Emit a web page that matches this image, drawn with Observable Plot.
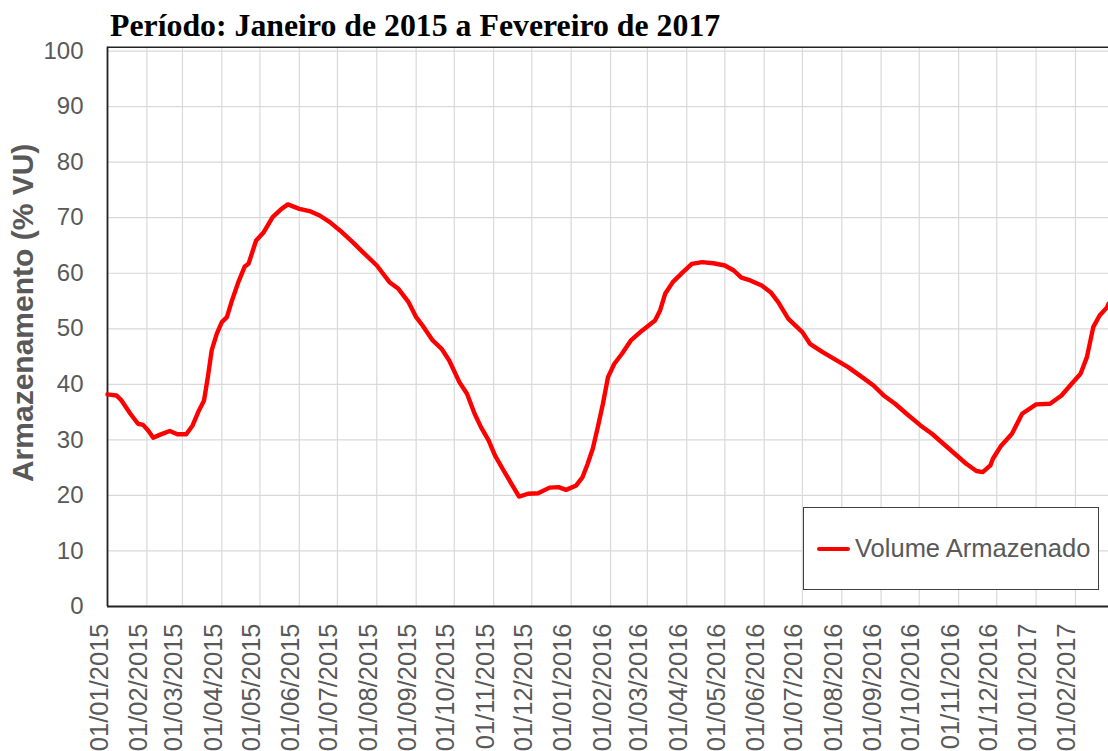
<!DOCTYPE html>
<html>
<head>
<meta charset="utf-8">
<script src="https://cdn.jsdelivr.net/npm/d3@7"></script>
<script src="https://cdn.jsdelivr.net/npm/@observablehq/plot@0.6"></script>
<style>
  body { margin: 0; background: #fff; }
  #wrap { position: relative; width: 1108px; height: 751px; overflow: hidden; background: #fff; }
  #title { position: absolute; left: 110px; top: 8px; font-family: "Liberation Serif", "Times New Roman", serif; font-weight: bold; font-size: 31.8px; line-height: 36px; color: #000; white-space: nowrap; }
  #chart { position: absolute; left: 0; top: 0; }
  #legend { position: absolute; left: 803px; top: 507px; width: 294px; height: 81px; border: 1px solid #404040; background: #fff; display: flex; align-items: center; box-sizing: content-box; }
  #legend .sw { display: inline-block; width: 33px; height: 0; border-top: 4px solid #ff0000; border-radius: 2px; margin-left: 13px; margin-right: 5px; }
  #legend .lb { font-family: "Liberation Sans", Arial, sans-serif; font-size: 25.5px; color: #595959; white-space: nowrap; }
</style>
</head>
<body>
<div id="wrap">
  <div id="chart"></div>
  <div id="title">Período: Janeiro de 2015 a Fevereiro de 2017</div>
  <div id="legend"><span class="sw"></span><span class="lb">Volume Armazenado</span></div>
</div>
<script>
// ---- data ----
const dates = [
  "2015-01-01","2015-01-08","2015-01-12","2015-01-19","2015-01-25","2015-01-29","2015-02-02","2015-02-06",
  "2015-02-11","2015-02-19","2015-02-25","2015-03-04","2015-03-09","2015-03-14","2015-03-18","2015-03-21",
  "2015-03-24","2015-03-28","2015-04-01","2015-04-05","2015-04-09","2015-04-14","2015-04-19","2015-04-22",
  "2015-04-28","2015-05-04","2015-05-11","2015-05-18","2015-05-23","2015-06-01","2015-06-09","2015-06-17",
  "2015-06-25","2015-07-03","2015-07-13","2015-07-21","2015-08-01","2015-08-11","2015-08-18","2015-08-26",
  "2015-09-01","2015-09-06","2015-09-14","2015-09-21","2015-09-27","2015-10-05","2015-10-11","2015-10-17",
  "2015-10-22","2015-10-28","2015-11-02","2015-11-08","2015-11-15","2015-11-21","2015-11-28","2015-12-06",
  "2015-12-15","2015-12-22","2015-12-28","2016-01-05","2016-01-10","2016-01-14","2016-01-18","2016-01-22",
  "2016-01-26","2016-01-30","2016-02-04","2016-02-10","2016-02-17","2016-02-26","2016-03-07","2016-03-11",
  "2016-03-15","2016-03-21","2016-03-29","2016-04-05","2016-04-13","2016-04-22","2016-05-01","2016-05-08",
  "2016-05-14","2016-05-21","2016-05-30","2016-06-06","2016-06-12","2016-06-20","2016-07-01","2016-07-07",
  "2016-07-17","2016-07-28","2016-08-06","2016-08-17","2016-08-26","2016-09-03","2016-09-12","2016-09-21",
  "2016-10-02","2016-10-11","2016-10-20","2016-10-29","2016-11-07","2016-11-15","2016-11-20","2016-11-26",
  "2016-11-28","2016-12-04","2016-12-13","2016-12-21","2017-01-01","2017-01-12","2017-01-21","2017-01-29",
  "2017-02-05","2017-02-10","2017-02-15","2017-02-20","2017-02-26","2017-02-27"
];
const volume = [
  38.2, 38.0, 37.1, 34.7, 32.9, 32.7, 31.7, 30.4,
  30.9, 31.6, 31.0, 31.0, 32.6, 35.3, 37.1, 41.3,
  46.1, 49.1, 51.2, 52.1, 55.1, 58.4, 61.2, 61.7,
  65.9, 67.4, 70.1, 71.6, 72.4, 71.6, 71.2, 70.4,
  69.2, 67.7, 65.6, 63.8, 61.4, 58.4, 57.2, 54.8,
  52.1, 50.6, 47.9, 46.4, 44.3, 40.4, 38.3, 34.7,
  32.3, 29.9, 27.2, 24.8, 22.1, 19.8, 20.3, 20.4,
  21.4, 21.5, 21.0, 21.8, 23.3, 25.7, 28.4, 32.3,
  36.5, 41.3, 43.7, 45.5, 47.9, 49.7, 51.5, 53.3,
  56.3, 58.4, 60.2, 61.7, 62.0, 61.8, 61.4, 60.5,
  59.2, 58.7, 57.8, 56.6, 54.8, 51.8, 49.4, 47.3,
  45.8, 44.3, 43.1, 41.3, 39.8, 38.0, 36.5, 34.7,
  32.6, 31.1, 29.3, 27.5, 25.7, 24.4, 24.2, 25.4,
  26.6, 28.8, 31.1, 34.7, 36.4, 36.5, 38.0, 40.1,
  41.9, 44.9, 50.3, 52.4, 53.9, 54.5
];
const monthTicks = [
  "2015-01-01","2015-02-01","2015-03-01","2015-04-01","2015-05-01","2015-06-01","2015-07-01","2015-08-01",
  "2015-09-01","2015-10-01","2015-11-01","2015-12-01","2016-01-01","2016-02-01","2016-03-01","2016-04-01",
  "2016-05-01","2016-06-01","2016-07-01","2016-08-01","2016-09-01","2016-10-01","2016-11-01","2016-12-01",
  "2017-01-01","2017-02-01"
];
const monthLabels = [
  "01/01/2015","01/02/2015","01/03/2015","01/04/2015","01/05/2015","01/06/2015","01/07/2015","01/08/2015",
  "01/09/2015","01/10/2015","01/11/2015","01/12/2015","01/01/2016","01/02/2016","01/03/2016","01/04/2016",
  "01/05/2016","01/06/2016","01/07/2016","01/08/2016","01/09/2016","01/10/2016","01/11/2016","01/12/2016",
  "01/01/2017","01/02/2017"
];
const yTicks = [0, 10, 20, 30, 40, 50, 60, 70, 80, 90, 100];
const xStart = "2015-01-01";
const xEnd = "2017-02-27";
const yMax = 100.7;
const yTitle = "Armazenamento (% VU)";

// ---- chart ----
const parse = d3.utcParse("%Y-%m-%d");
const data = dates.map((d, i) => ({date: parse(d), value: volume[i]}));
const ticks = monthTicks.map((d, i) => ({date: parse(d), label: monthLabels[i]}));
const gray = "#595959";

const chart = Plot.plot({
  width: 1108,
  height: 751,
  marginTop: 46.7,
  marginBottom: 145,
  marginLeft: 107,
  marginRight: 0,
  style: {fontFamily: "'Liberation Sans', Arial, sans-serif", background: "white", overflow: "visible"},
  x: {type: "utc", domain: [parse(xStart), parse(xEnd)], axis: null},
  y: {domain: [0, yMax], axis: null},
  marks: [
    Plot.ruleX(ticks, {x: "date", stroke: "#d9d9d9", strokeWidth: 1.2}),
    Plot.ruleY(yTicks.filter(d => d > 0), {stroke: "#d9d9d9", strokeWidth: 1.2}),
    Plot.ruleY([yMax], {stroke: "#222", strokeWidth: 1.5}),
    Plot.ruleX([parse(xStart)], {stroke: "#222", strokeWidth: 1.8}),
    Plot.line(data, {x: "date", y: "value", stroke: "#ff0000", strokeWidth: 4.4, strokeLinejoin: "round", strokeLinecap: "round"}),
    Plot.ruleY([0], {stroke: "#222", strokeWidth: 2}),
    Plot.text(ticks, {x: "date", text: "label", frameAnchor: "bottom", rotate: -90, textAnchor: "end", dy: 17, fontSize: 25.5, fill: gray}),
    Plot.text(yTicks, {y: d => d, text: d => String(d), frameAnchor: "left", textAnchor: "end", dx: -24, fontSize: 24, fill: gray}),
    Plot.text([yTitle], {text: d => d, frameAnchor: "left", textAnchor: "middle", rotate: -90, dx: -84, dy: -14, fontSize: 30, fontWeight: "bold", fill: gray})
  ]
});
document.getElementById("chart").appendChild(chart);
</script>
</body>
</html>
